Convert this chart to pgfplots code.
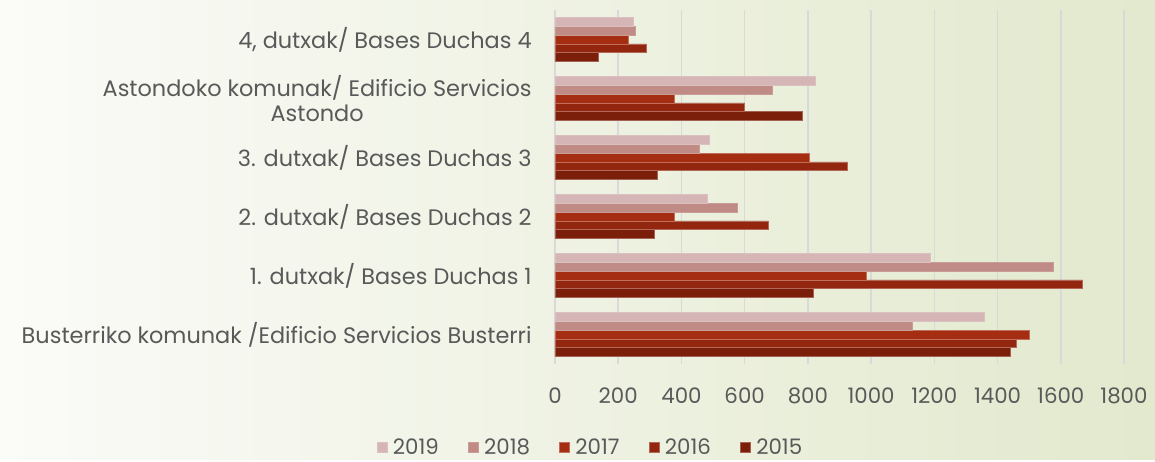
\documentclass[border=0pt]{standalone}
\usepackage{pgfplots}
\pgfplotsset{compat=1.18}
\usepackage{fontspec}
\setmainfont{Poppins}

\definecolor{c2019}{HTML}{D5B5B5}
\definecolor{c2018}{HTML}{C08A85}
\definecolor{c2017}{HTML}{A52E12}
\definecolor{c2016}{HTML}{93260E}
\definecolor{c2015}{HTML}{7B1F0A}
\definecolor{txt}{HTML}{595959}
\definecolor{gridc}{HTML}{D9D9D9}

\begin{document}
\begin{tikzpicture}
% background, also fixes the page size
\shade[left color={rgb,255:red,251;green,251;blue,248}, right color={rgb,255:red,226;green,233;blue,205}]
  (-416.25pt,-71.25pt) rectangle (450pt,273pt);
\begin{axis}[
  at={(0,0)}, anchor=south west,
  scale only axis,
  width=426.75pt, height=265.5pt,
  xbar=0pt, bar width=0.147,
  xmin=0, xmax=1800,
  ymin=-0.5, ymax=5.5,
  xtick={0,200,...,1800},
  ytick={0,1,2,3,4,5},
  yticklabels={
    {Busterriko komunak /Edificio Servicios Busterri},
    {1. dutxak/ Bases Duchas 1},
    {2. dutxak/ Bases Duchas 2},
    {3. dutxak/ Bases Duchas 3},
    {Astondoko komunak/ Edificio Servicios\\Astondo},
    {4, dutxak/ Bases Duchas 4}},
  yticklabel style={align=center, font=\fontsize{16.8}{19}\selectfont, text=txt, xshift=-14pt},
  xticklabel style={font=\fontsize{16}{18}\selectfont, text=txt, yshift=-14pt},
  /pgf/number format/assume math mode=true,
  /pgf/number format/1000 sep={},
  scaled x ticks=false,
  xmajorgrids, grid style={gridc, line width=1.2pt},
  axis line style={draw=none},
  major tick length=0pt,
  legend style={at={(0.063,-0.235)}, anchor=center, draw=none, fill=none,
    font=\fontsize{16}{18}\selectfont, text=txt, legend columns=5,
    /tikz/every even column/.append style={column sep=20pt},
    /tikz/every odd column/.append style={column sep=2pt}},
  legend image code/.code={\fill[#1] (0pt,-3.75pt) rectangle (7.5pt,3.75pt);},
  reverse legend,
]
\addplot[fill=c2015, draw=c2015!70!white, line width=0.5pt] coordinates {(1440,0) (818,1) (314,2) (323,3) (782,4) (137,5)};
\addplot[fill=c2016, draw=c2016!70!white, line width=0.5pt] coordinates {(1458,0) (1669,1) (675,2) (924,3) (600,4) (288,5)};
\addplot[fill=c2017, draw=c2017!70!white, line width=0.5pt] coordinates {(1499,0) (984,1) (378,2) (805,3) (378,4) (233,5)};
\addplot[fill=c2018, draw=c2018!85!white, line width=0.5pt] coordinates {(1129,0) (1576,1) (577,2) (458,3) (686,4) (253,5)};
\addplot[fill=c2019, draw=c2019!85!white, line width=0.5pt] coordinates {(1359,0) (1188,1) (482,2) (488,3) (822,4) (249,5)};
\legend{2015,2016,2017,2018,2019}
\end{axis}
\end{tikzpicture}
\end{document}
